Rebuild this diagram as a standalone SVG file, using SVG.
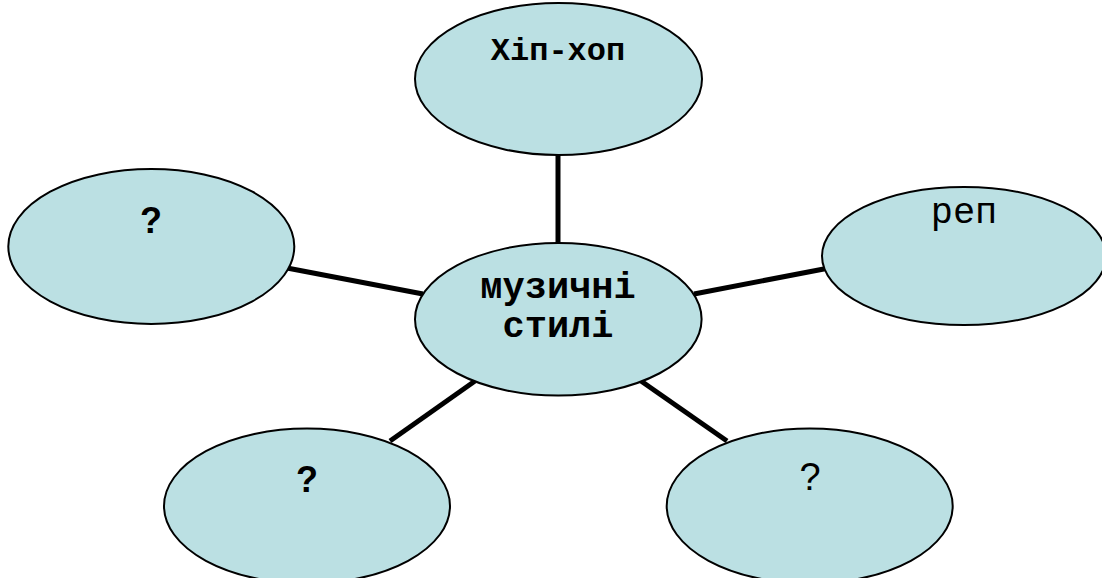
<svg xmlns="http://www.w3.org/2000/svg" width="1102" height="578" viewBox="0 0 1102 578">
<style>
.node{fill:#BBE0E3;stroke:#000;stroke-width:2}
.conn{stroke:#000;stroke-width:5;fill:none}
.mono{font-family:"Liberation Mono","Courier New",monospace;text-anchor:middle;fill:#000}
.b{font-weight:bold}
.sans{font-family:"Liberation Sans",Arial,sans-serif;text-anchor:middle;fill:#000}
</style>
<rect width="1102" height="578" fill="#fff"/>
<g id="connectors">
<line class="conn" x1="558" y1="155" x2="558" y2="244"/>
<line class="conn" x1="287" y1="268" x2="423" y2="294"/>
<line class="conn" x1="694" y1="294" x2="829" y2="268"/>
<line class="conn" x1="390" y1="441" x2="475" y2="381"/>
<line class="conn" x1="641" y1="381" x2="727" y2="441"/>
</g>
<g id="node-hiphop">
<ellipse class="node" cx="558.5" cy="79" rx="143.5" ry="76"/>
<text class="mono b" x="558" y="60" font-size="32">Хіп-хоп</text>
</g>
<g id="node-rep">
<ellipse class="node" cx="964" cy="256" rx="142" ry="69"/>
<text class="mono" x="964" y="223" font-size="37">реп</text>
</g>
<g id="node-left">
<ellipse class="node" cx="151.3" cy="246.5" rx="143" ry="77.5"/>
<text class="sans b" x="151" y="233" font-size="36">?</text>
</g>
<g id="node-center">
<ellipse class="node" cx="558.3" cy="319.3" rx="143.3" ry="76.3"/>
<text class="mono b" x="558" y="298" font-size="37">музичні</text>
<text class="mono b" x="558" y="337" font-size="37">стилі</text>
</g>
<g id="node-bottom-left">
<ellipse class="node" cx="307" cy="506" rx="143" ry="77.5"/>
<text class="sans b" x="307" y="492" font-size="36">?</text>
</g>
<g id="node-bottom-right">
<ellipse class="node" cx="809.7" cy="506" rx="143" ry="77.5"/>
<text class="sans" x="810" y="490" font-size="38">?</text>
</g>
</svg>
